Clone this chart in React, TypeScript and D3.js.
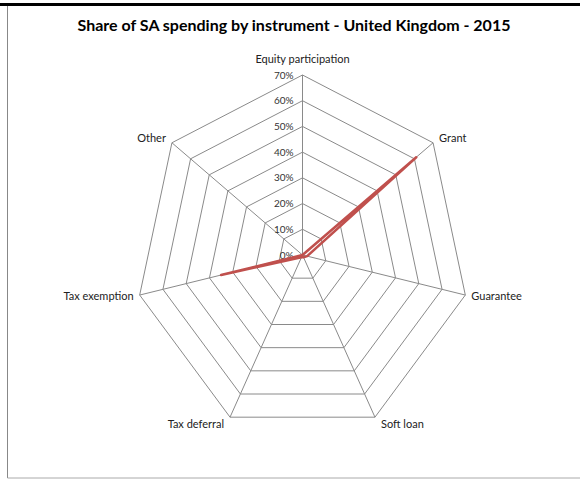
import React from "react";
import * as d3 from "d3";

const categories = ["Equity participation", "Grant", "Guarantee", "Soft loan", "Tax deferral", "Tax exemption", "Other"];
const values = [0, 0.61, 0.02, 0.01, 0.01, 0.35, 0];
const tickValues = [0, 0.1, 0.2, 0.3, 0.4, 0.5, 0.6, 0.7];
const title = "Share of SA spending by instrument - United Kingdom - 2015";

const W = 580, H = 480;
const cx = 302.5, cy = 255;
const Rx = 167, Ry = 180;
const FONT = "Lato, 'Open Sans', sans-serif";

export default function App() {
  const r = d3.scaleLinear().domain([0, 0.7]).range([0, 1]);
  const angle = d3.scaleLinear().domain([0, categories.length]).range([0, 2 * Math.PI]);
  const pt = (i: number, v: number): [number, number] => {
    const a = angle(i);
    return [cx + Rx * r(v) * Math.sin(a), cy - Ry * r(v) * Math.cos(a)];
  };
  const line = d3.line<[number, number]>().curve(d3.curveLinearClosed);
  const fmt = d3.format(".0%");

  const labelProps = (i: number) => {
    const [x, y] = pt(i, 0.7);
    const a = angle(i);
    const s = Math.sin(a);
    const c = Math.cos(a);
    let anchor = "middle";
    let dx = 0, dy = 0;
    if (Math.abs(s) < 0.01) { dy = -16; }
    else if (s > 0) { anchor = "start"; dx = 6; dy = c > 0 ? -5 : c < -0.5 ? 7 : 1; }
    else { anchor = "end"; dx = -6; dy = c > 0 ? -5 : c < -0.5 ? 7 : 1; }
    return { x: x + dx, y: y + dy, anchor };
  };

  return (
    <svg width={W} height={H} style={{ position: "absolute", left: 0, top: 0, background: "#fff" }} fontFamily={FONT}>
      <rect x={0} y={0} width={W} height={H} fill="#fff" />
      <line x1={0} x2={W} y1={4.5} y2={4.5} stroke="#000" strokeWidth={3} />
      <line x1={7.5} x2={7.5} y1={6} y2={478} stroke="#888" strokeWidth={1} />
      <line x1={7.5} x2={W} y1={478} y2={478} stroke="#aaa" strokeWidth={1} />
      <text x={294} y={31} textAnchor="middle" fontSize={16} fontWeight="bold" fill="#000">{title}</text>
      {tickValues.slice(1).map((t) => (
        <path key={t}
          d={line(categories.map((_, i) => pt(i, t)))!}
          fill="none" stroke="#8a8a8a" strokeWidth={1} />
      ))}
      {categories.map((_, i) => {
        const [x, y] = pt(i, 0.7);
        return <line key={i} x1={cx} y1={cy} x2={x} y2={y} stroke="#8a8a8a" strokeWidth={1} />;
      })}
      {tickValues.map((t) => {
        const [x, y] = pt(0, t);
        return (
          <text key={t} x={x - 9} y={y} dy="0.35em" textAnchor="end" fontSize={10} fill="#333">{fmt(t)}</text>
        );
      })}
      <path d={line(values.map((v, i) => pt(i, v)))!} fill="none" stroke="#C0504D" strokeWidth={2.5} strokeLinejoin="round" />
      {categories.map((c, i) => {
        const p = labelProps(i);
        return (
          <text key={c} x={p.x} y={p.y} dy="0.35em" textAnchor={p.anchor as any} fontSize={11} fill="#222">{c}</text>
        );
      })}
    </svg>
  );
}
